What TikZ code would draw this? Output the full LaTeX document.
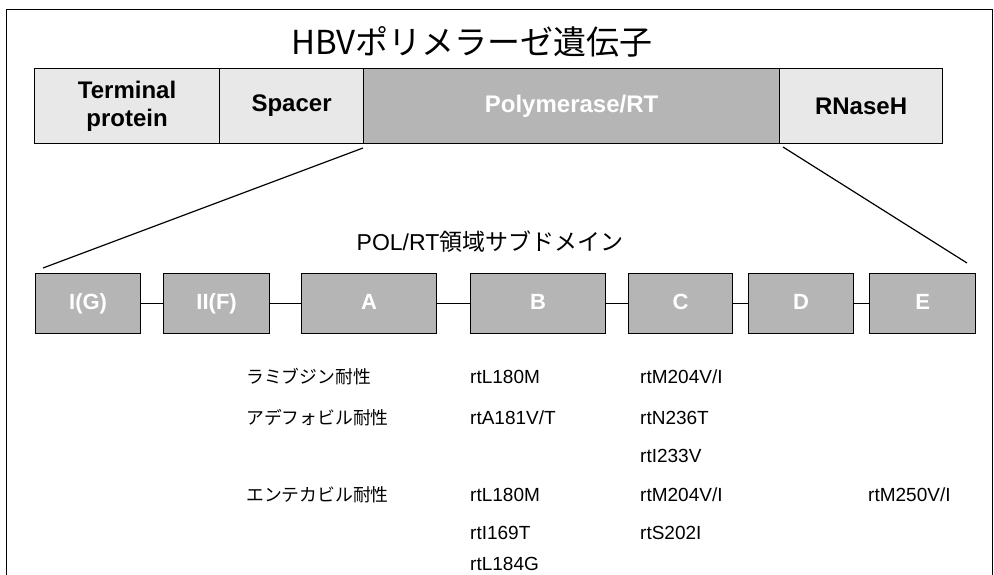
\documentclass[tikz,border=0pt]{standalone}
\usepackage{fontspec}
\setmainfont{Liberation Sans}
\newfontfamily\jp{Noto Sans CJK JP}
\begin{document}
\begin{tikzpicture}[x=1pt,y=-1pt,
  lightbox/.style={draw=black,line width=1.2pt,fill=gray!18,inner sep=0pt},
  darkbox/.style={draw=black,line width=1.2pt,fill=gray!58,inner sep=0pt},
  dom/.style={darkbox,minimum height=60pt,text height=16pt,text depth=4pt,font=\bfseries\fontsize{22}{24}\selectfont,text=white},
  lab/.style={anchor=west,inner sep=0pt,font=\fontsize{19}{20}\selectfont},
  jlab/.style={anchor=west,inner sep=0pt,font=\jp\fontsize{17.8}{20}\selectfont},
  link/.style={line width=1.2pt}]
\useasboundingbox (0,0) rectangle (994,575);
% frame
\draw[line width=0.8pt] (6,576) -- (6,9) -- (992,9) -- (992,576);
% title
\node[inner sep=0pt,font=\jp\fontsize{33}{36}\selectfont] (title) at (472,42) {HBVポリメラーゼ遺伝子};
% top bar
\node[lightbox,minimum width=185pt,minimum height=75pt,anchor=north west,font=\bfseries\fontsize{24}{28}\selectfont,align=center] (tp) at (34,68) {Terminal\\protein};
\node[lightbox,minimum width=144pt,minimum height=75pt,anchor=north west,font=\bfseries\fontsize{24}{26}\selectfont] (sp) at (219,68) {Spacer};
\node[darkbox,minimum width=416pt,minimum height=75pt,anchor=north west,font=\bfseries\fontsize{24}{26}\selectfont,text=white] (pol) at (363,68) {Polymerase/RT};
\node[lightbox,minimum width=163pt,minimum height=75pt,anchor=north west,font=\bfseries\fontsize{24}{26}\selectfont] (rn) at (779,68) {RNaseH};
% expansion lines
\coordinate (l1) at (363,148);
\coordinate (l2) at (43,268);
\coordinate (r1) at (783,147);
\coordinate (r2) at (967,263);
\draw[link] (l1) -- (l2);
\draw[link] (r1) -- (r2);
% subtitle
\node[inner sep=0pt,font=\fontsize{23}{26}\selectfont] (sub) at (490,242) {POL/RT{\jp 領域サブドメイン}};
% domains
\node[dom,minimum width=105pt,anchor=north west] (ig) at (35,273) {I(G)};
\node[dom,minimum width=106pt,anchor=north west] (iif) at (163,273) {II(F)};
\node[dom,minimum width=135pt,anchor=north west] (a) at (301,273) {A};
\node[dom,minimum width=135pt,anchor=north west] (b) at (470,273) {B};
\node[dom,minimum width=104pt,anchor=north west] (c) at (628,273) {C};
\node[dom,minimum width=105pt,anchor=north west] (d) at (748,273) {D};
\node[dom,minimum width=106pt,anchor=north west] (e) at (869,273) {E};
\draw[link] (ig) -- (iif);
\draw[link] (iif) -- (a);
\draw[link] (a) -- (b);
\draw[link] (b) -- (c);
\draw[link] (c) -- (d);
\draw[link] (d) -- (e);
% resistance table
\node[jlab] (lam) at (246,377) {ラミブジン耐性};
\node[lab] (lam1) at (470,377) {rtL180M};
\node[lab] (lam2) at (640,377) {rtM204V/I};
\node[jlab] (ade) at (246,418) {アデフォビル耐性};
\node[lab] (ade1) at (470,418) {rtA181V/T};
\node[lab] (ade2) at (640,418) {rtN236T};
\node[lab] (ade3) at (640,456) {rtI233V};
\node[jlab] (ent) at (246,495) {エンテカビル耐性};
\node[lab] (ent1) at (470,495) {rtL180M};
\node[lab] (ent2) at (640,495) {rtM204V/I};
\node[lab] (ent3) at (868,495) {rtM250V/I};
\node[lab] (ent4) at (470,533) {rtI169T};
\node[lab] (ent5) at (640,533) {rtS202I};
\node[lab] (ent6) at (470,564) {rtL184G};
\end{tikzpicture}
\end{document}
